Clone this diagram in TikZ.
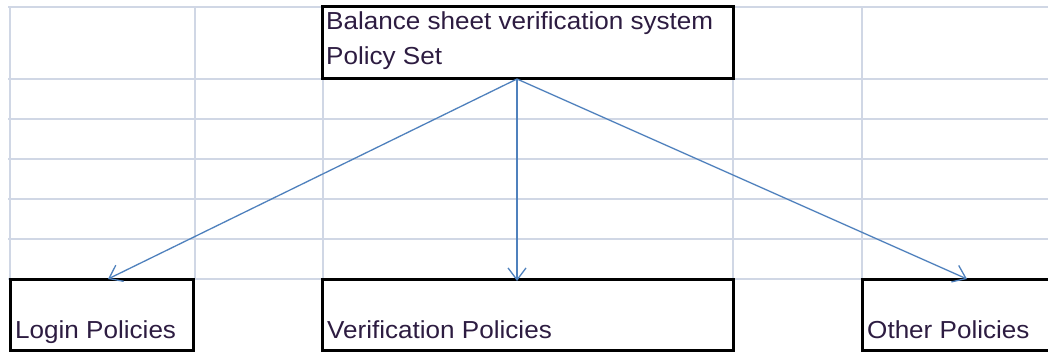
\documentclass[tikz,border=0pt]{standalone}
\usepackage{fontspec}
\setmainfont{Liberation Sans}[FakeStretch=1.06]
\usetikzlibrary{arrows.meta}
\definecolor{gridc}{RGB}{208,215,229}
\definecolor{arrc}{RGB}{79,129,189}
\definecolor{txtc}{RGB}{45,28,65}
\tikzset{
  gridline/.style={draw=gridc, line width=1.4pt},
  box/.style={draw=black, fill=white, line width=3pt, rectangle, inner sep=0pt},
  txt/.style={anchor=base west, inner sep=0pt, text=txtc, font=\fontsize{24.6}{28}\selectfont},
  arr/.style={draw=arrc, line width=1.3pt, -{Straight Barb[length=12pt,width=18pt,line width=1.3pt]}}
}
\begin{document}
\begin{tikzpicture}[x=1pt,y=-1pt]
\useasboundingbox (0,0) rectangle (1048,352);
\clip (0,0) rectangle (1048,352);
\fill[white] (0,0) rectangle (1048,352);
% spreadsheet grid
\foreach \y in {7,79,119,159,199,239,279} \draw[gridline] (8,\y) -- (1048,\y);
\foreach \x in {10,195,323,733,862} \draw[gridline] (\x,7) -- (\x,280);
% boxes
\node[box, minimum width=411pt, minimum height=72pt] (top) at (527.5,43) {};
\node[box, minimum width=183pt, minimum height=70pt] (login) at (101.5,315) {};
\node[box, minimum width=411pt, minimum height=70pt] (verif) at (527.5,315) {};
\node[box, minimum width=200pt, minimum height=70pt] (other) at (962,315) {};
% texts
\node[txt] (t1) at (326,29.5) {Balance sheet verification system};
\node[txt] (t2) at (326,65) {Policy Set};
\node[txt] (t3) at (15,338) {Login Policies};
\node[txt] (t4) at (327,338) {Verification Policies};
\node[txt] (t5) at (867,338) {Other Policies};
% connectors
\coordinate (src) at (517,79);
\coordinate (inL) at (108,279);
\coordinate (inV) at (517,281);
\coordinate (inO) at (967,279);
\draw[arr] (src) -- (inL);
\draw[arr] (src) -- (inV);
\draw[arr] (src) -- (inO);
\end{tikzpicture}
\end{document}
